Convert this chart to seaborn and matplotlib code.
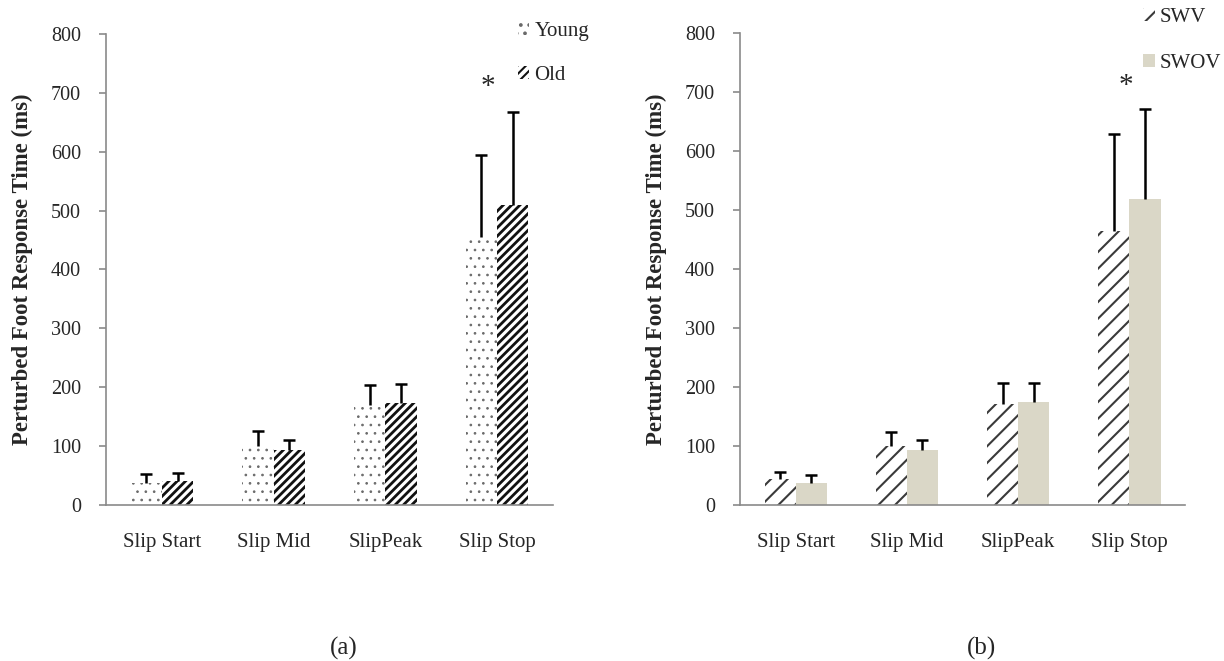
import numpy as np
import pandas as pd
import matplotlib
matplotlib.use("Agg")
import matplotlib.pyplot as plt
import seaborn as sns

# -----------------------------
# Data
# -----------------------------
phases = ["Slip Start", "Slip Mid", "SlipPeak", "Slip Stop"]

young_mean = [38, 100, 170, 455]
young_err = [15, 26, 34, 139]
old_mean = [41, 93, 173, 510]
old_err = [13, 17, 32, 157]

swv_mean = [44, 100, 172, 465]
swv_err = [12, 24, 35, 164]
swov_mean = [37, 93, 175, 518]
swov_err = [14, 17, 31, 153]

# -----------------------------
# Style
# -----------------------------
sns.set_style("white")
plt.rcParams["font.family"] = ["Liberation Serif", "DejaVu Serif"]
plt.rcParams["font.size"] = 14
plt.rcParams["hatch.linewidth"] = 1.5

AXIS_GRAY = "#8a8a8a"
TAN = "#ddd9c4"


def long_frame(a_name, a_vals, b_name, b_vals):
    return pd.DataFrame({
        "phase": phases * 2,
        "group": [a_name] * 4 + [b_name] * 4,
        "time": list(a_vals) + list(b_vals),
    })


def draw_panel(ax, df, groups, faces, hatches, hatch_colors, hatch_lw, errs, star_x):
    sns.barplot(data=df, x="phase", y="time", hue="group", hue_order=groups,
                palette=faces, width=0.56, errorbar=None, ax=ax,
                linewidth=0, legend=False)
    containers = list(ax.containers)
    for cont, h, hc, hl in zip(containers, hatches, hatch_colors, hatch_lw):
        for p in cont.patches:
            if h:
                p.set_hatch(h)
                p.set_edgecolor(hc)
                if hasattr(p, "set_hatch_linewidth"):
                    p.set_hatch_linewidth(hl)
            p.set_linewidth(0)
    # upper error bars only
    for cont, e in zip(containers, errs):
        xs = [p.get_x() + p.get_width() / 2 for p in cont.patches]
        ys = [p.get_height() for p in cont.patches]
        _, caps, _ = ax.errorbar(xs, ys, yerr=[np.zeros(len(e)), e], fmt="none",
                                 ecolor="black", elinewidth=1.8, capsize=4.5,
                                 capthick=1.8)
        caps[0].set_visible(False)

    ax.set_ylim(0, 800)
    ax.set_xlim(-0.5, 3.5)
    ax.set_yticks(range(0, 801, 100))
    ax.set_xticks(np.arange(-0.5, 4, 1))
    ax.set_xticklabels([])
    ax.set_xticks(range(4), minor=True)
    ax.set_xticklabels(phases, minor=True)
    ax.tick_params(axis="x", which="major", length=5, width=1.2, color=AXIS_GRAY, direction="out")
    ax.tick_params(axis="x", which="minor", length=0, pad=20.5, labelsize=15)
    ax.tick_params(axis="y", length=5, width=1.2, color=AXIS_GRAY, direction="out",
                   pad=13, labelsize=14.5, left=True)
    for s in ["top", "right"]:
        ax.spines[s].set_visible(False)
    for s in ["left", "bottom"]:
        ax.spines[s].set_color(AXIS_GRAY)
        ax.spines[s].set_linewidth(1.2)
    ax.set_xlabel("")
    ax.set_ylabel("Perturbed Foot Response Time (ms)", fontweight="bold",
                  fontsize=16.5, labelpad=13)
    ax.text(star_x, 710, "*", ha="center", va="center", fontsize=21)
    return containers


fig = plt.figure(figsize=(12.24, 6.61), dpi=100)
ax1 = fig.add_axes([0.0866, 0.236, 0.3652, 0.7126])
ax2 = fig.add_axes([0.6046, 0.236, 0.3636, 0.714])

legend_kw = dict(bbox_transform=fig.transFigure, frameon=False, fontsize=15,
                 handlelength=0.55, handleheight=0.55, handletextpad=0.25,
                 borderpad=0, loc="upper left")

# (a) Young vs Old
df_a = long_frame("Young", young_mean, "Old", old_mean)
c1 = draw_panel(ax1, df_a, ["Young", "Old"], ["white", "white"], ["..", "////"],
                ["#6a6a6a", "#111111"], [0.7, 2.0], [young_err, old_err], 2.92)
ax1.legend(c1, ["Young", "Old"], bbox_to_anchor=(0.4145, 0.983),
           labelspacing=1.2, **legend_kw)

# (b) SWV vs SWOV
df_b = long_frame("SWV", swv_mean, "SWOV", swov_mean)
c2 = draw_panel(ax2, df_b, ["SWV", "SWOV"], ["white", TAN], ["//", None],
                ["#3a3a3a", TAN], [1.5, 1.5], [swv_err, swov_err], 2.97)
ax2.legend(c2, ["SWV", "SWOV"], bbox_to_anchor=(0.9255, 1.004),
           labelspacing=1.3, **legend_kw)

fig.text(0.281, 0.019, "(a)", ha="center", va="center", fontsize=18)
fig.text(0.802, 0.019, "(b)", ha="center", va="center", fontsize=18)

fig.savefig("out.png", dpi=100)
